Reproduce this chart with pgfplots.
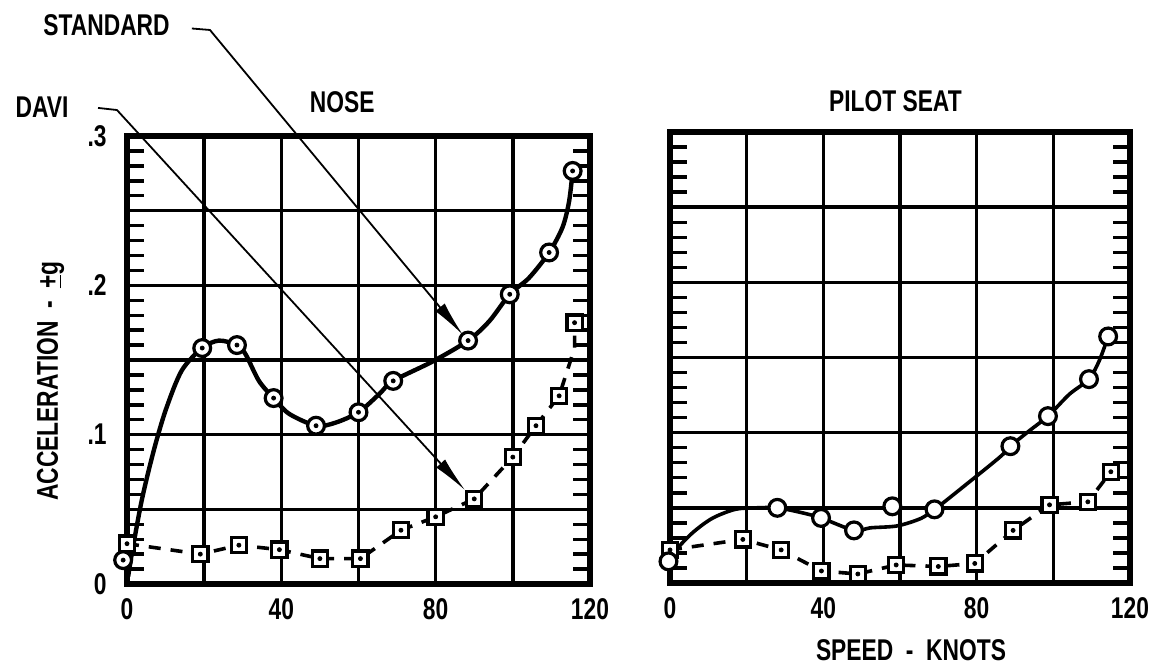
\documentclass[border=0pt]{standalone}
\usepackage{pgfplots}
\usepackage{pgfplotstable}
\pgfplotsset{compat=1.18}
\usetikzlibrary{arrows.meta}
\usepackage{fontspec}
\setmainfont{Liberation Sans}[FakeStretch=0.76]

% nose, standard seat: test points
\pgfplotstableread{
x y
-1 0.016
19.5 0.158
28.5 0.160
38 0.1245
49 0.106
60 0.115
69 0.136
88.4 0.163
99.2 0.194
109.4 0.222
115.5 0.2766
}\noseStd
% nose, standard seat: faired curve
\pgfplotstableread{
x y
0.3 0.005
1.3 0.021
3.9 0.057
7 0.090
10.1 0.117
14.2 0.143
19.5 0.158
23.8 0.163
28.5 0.160
30.7 0.154
34.2 0.136
38 0.1245
42 0.114
49 0.106
54 0.108
60 0.115
65.3 0.127
69 0.136
79.2 0.149
88.4 0.163
93.9 0.176
99.2 0.194
104.2 0.205
109.4 0.222
112.9 0.239
114.6 0.2565
115.5 0.2766
}\noseStdCurve
% nose, DAVI
\pgfplotstableread{
x y
0 0.027
19 0.020
29 0.026
39.5 0.023
50 0.017
60.5 0.017
71 0.036
80 0.045
90 0.057
100 0.085
106 0.106
112 0.126
116 0.175
}\noseDavi
\pgfplotstableread{
x y
0 0.027
19 0.020
29 0.026
39.5 0.023
50 0.017
60.5 0.017
71 0.036
80 0.045
90 0.057
100 0.085
106 0.106
112 0.126
114 0.142
116 0.158
116 0.175
}\noseDaviCurve

% pilot seat, standard
\pgfplotstableread{
x y
-0.4 0.0144
28 0.050
39.4 0.0433
48 0.035
58 0.051
69 0.049
88.8 0.091
98.6 0.111
109.3 0.1356
114.3 0.164
}\seatStd
\pgfplotstableread{
x y
0.4 0.019
5.7 0.033
11 0.043
17 0.049
22.4 0.050
28 0.050
34 0.047
39.4 0.0433
48 0.035
52.3 0.0367
59.3 0.038
65.5 0.043
69 0.049
71.6 0.054
85.7 0.083
88.8 0.091
93.6 0.101
98.6 0.111
104.2 0.1256
109.3 0.1356
112 0.148
114.3 0.164
}\seatStdCurve
% pilot seat, DAVI
\pgfplotstableread{
x y
0 0.022
19 0.029
29 0.022
39.5 0.008
49 0.006
59 0.012
70 0.011
79.5 0.013
89.5 0.035
99 0.052
109 0.054
115 0.074
}\seatDavi

\pgfplotsset{
  panel/.style={
    scale only axis,
    xmin=0, xmax=120, ymin=0, ymax=0.3,
    xtick={0,20,40,60,80,100,120},
    xticklabels={0,,40,,80,,120},
    ytick={0,0.05,0.1,0.15,0.2,0.25,0.3},
    minor y tick num=4,
    grid=major,
    major grid style={black, line width=1.7pt},
    axis line style={line width=2.6pt},
    major tick length=0pt,
    minor tick length=8.5pt,
    tick align=inside,
    every minor tick/.style={black, line width=1.7pt},
    xticklabel style={yshift=-2pt},
    yticklabel style={xshift=-5pt},
    clip=false,
  },
  stdline/.style={no marks, smooth, line width=2.2pt},
  daviline/.style={no marks, line width=1.8pt, dash pattern=on 6pt off 5pt},
  stdmark/.style={only marks, mark=*, mark size=4.2pt,
    mark options={line width=1.6pt, fill=white, draw=black, solid}},
  davimark/.style={only marks, mark=square*, mark size=3.8pt,
    mark options={line width=1.6pt, fill=white, draw=black, solid}},
  dotmark/.style={only marks, mark=*, mark size=1pt},
}

\begin{document}
\fontsize{15}{17}\selectfont\bfseries
\begin{tikzpicture}
\path[use as bounding box] (-63.5pt,-43pt) rectangle (520pt,292pt);

\begin{axis}[panel,
    at={(0pt,0pt)}, anchor=south west,
    width=231.5pt, height=224pt,
    yticklabels={0,,.1,,.2,,.3},
    title={NOSE},
    title style={at={(0.465,1)}, anchor=base, yshift=6pt},
    ylabel={ACCELERATION\ \ -\ \ \underline{+}g},
    ylabel style={at={(axis description cs:-0.165,0.453)}, anchor=center},
]
\addplot[stdline] table {\noseStdCurve};
\addplot[daviline] table {\noseDaviCurve};
\addplot[davimark] table {\noseDavi};
\addplot[dotmark] table {\noseDavi};
\addplot[stdmark] table {\noseStd};
\addplot[dotmark] table {\noseStd};

\node at (axis cs:-5.3,0.3743) {STANDARD};
\draw[line width=0.9pt, -{Latex[length=18pt,width=6pt]}]
  (axis cs:16.8,0.372) -- (axis cs:21.5,0.371) -- (axis cs:87.1,0.1667);
\node at (axis cs:-22,0.3194) {DAVI};
\draw[line width=0.9pt, -{Latex[length=18pt,width=6pt]}]
  (axis cs:-7.5,0.3188) -- (axis cs:-2.6,0.3174) -- (axis cs:87.6,0.0629);
\end{axis}

\begin{axis}[panel,
    at={(271.5pt,0.5pt)}, anchor=south west,
    width=230pt, height=225.5pt,
    yticklabels={,,,,,,},
    title={PILOT SEAT},
    title style={at={(0.49,1)}, anchor=base, yshift=4.5pt},
    xlabel={SPEED\ \ -\ \ KNOTS},
    xlabel style={at={(axis description cs:0.524,0)}, anchor=center, yshift=-33.5pt},
]
\addplot[stdline, line width=1.8pt] table {\seatStdCurve};
\addplot[daviline] table {\seatDavi};
\addplot[davimark] table {\seatDavi};
\addplot[dotmark] table {\seatDavi};
\addplot[stdmark] table {\seatStd};
\end{axis}
\end{tikzpicture}
\end{document}
